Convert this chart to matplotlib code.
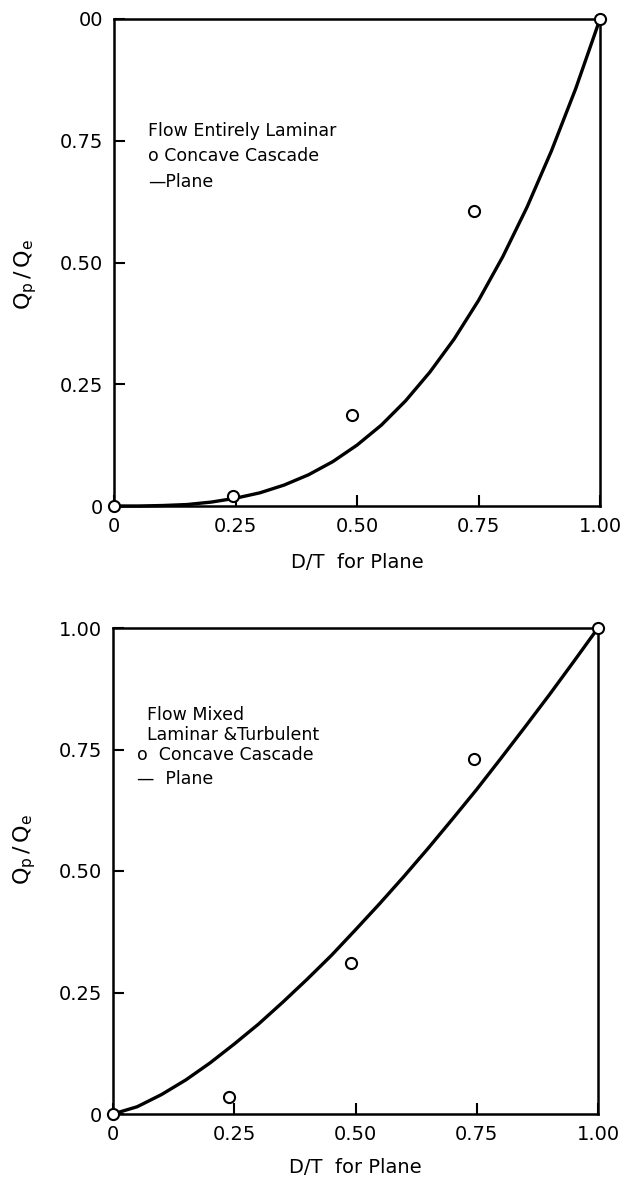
import matplotlib
matplotlib.use("Agg")
import matplotlib.pyplot as plt

# ---- data ----
curve_x = [0.00, 0.05, 0.10, 0.15, 0.20, 0.25, 0.30, 0.35, 0.40, 0.45, 0.50,
           0.55, 0.60, 0.65, 0.70, 0.75, 0.80, 0.85, 0.90, 0.95, 1.00]
laminar_plane = [0.000, 0.000, 0.001, 0.003, 0.008, 0.016, 0.027, 0.043, 0.064, 0.091, 0.125,
                 0.166, 0.216, 0.275, 0.343, 0.422, 0.512, 0.614, 0.729, 0.857, 1.000]
laminar_cascade_x = [0.00, 0.245, 0.49, 0.74, 1.00]
laminar_cascade_y = [0.00, 0.02, 0.187, 0.605, 1.00]

mixed_plane = [0.000, 0.015, 0.040, 0.070, 0.105, 0.144, 0.185, 0.230, 0.277, 0.326, 0.379,
               0.433, 0.489, 0.547, 0.607, 0.668, 0.732, 0.797, 0.863, 0.931, 1.000]
mixed_cascade_x = [0.00, 0.24, 0.49, 0.745, 1.00]
mixed_cascade_y = [0.00, 0.035, 0.31, 0.73, 1.00]

xticks = [0, 0.25, 0.50, 0.75, 1.00]
xticklabels = ["0", "0.25", "0.50", "0.75", "1.00"]
yticks = [0, 0.25, 0.50, 0.75, 1.00]
yticklabels_top = ["0", "0.25", "0.50", "0.75", "00"]
yticklabels_bot = ["0", "0.25", "0.50", "0.75", "1.00"]

plt.rcParams['font.family'] = ['DejaVu Sans']

fig = plt.figure(figsize=(6.36, 11.8), dpi=100)
ax1 = fig.add_axes([114/636, 1 - 506/1180, 486/636, 487/1180])
ax2 = fig.add_axes([113/636, 1 - 1114/1180, 485/636, 486/1180])

def style(ax, ylabels, ylab_y):
    ax.set_xlim(0, 1)
    ax.set_ylim(0, 1)
    for s in ax.spines.values():
        s.set_linewidth(1.8)
    ax.set_xticks(xticks)
    ax.set_xticklabels(xticklabels, fontsize=14)
    ax.set_yticks(yticks)
    ax.set_yticklabels(ylabels, fontsize=14)
    ax.tick_params(direction='in', length=8, width=1.5, pad=8,
                   top=False, right=False)
    ax.set_ylabel(r"$\mathsf{Q_p\,/\,Q_e}$", fontsize=16)
    ax.yaxis.set_label_coords(-0.155, ylab_y)

# top panel
ax1.plot(curve_x, laminar_plane, color='black', lw=2.4, clip_on=False)
ax1.plot(laminar_cascade_x, laminar_cascade_y, 'o', mfc='white', mec='black',
         mew=1.5, ms=8, clip_on=False, zorder=5)
style(ax1, yticklabels_top, 0.475)
ax1.set_xlabel("D/T  for Plane", fontsize=14, labelpad=12)
ax1.text(0.07, 0.77, "Flow Entirely Laminar", transform=ax1.transAxes, fontsize=12.5, va='center')
ax1.text(0.07, 0.718, "o Concave Cascade", transform=ax1.transAxes, fontsize=12.5, va='center')
ax1.text(0.07, 0.666, "\u2014Plane", transform=ax1.transAxes, fontsize=12.5, va='center')

# bottom panel
ax2.plot(curve_x, mixed_plane, color='black', lw=2.4, clip_on=False)
ax2.plot(mixed_cascade_x, mixed_cascade_y, 'o', mfc='white', mec='black',
         mew=1.5, ms=8, clip_on=False, zorder=5)
style(ax2, yticklabels_bot, 0.545)
ax2.set_xlabel("D/T  for Plane", fontsize=14, labelpad=10)
ax2.text(0.07, 0.82, "Flow Mixed", transform=ax2.transAxes, fontsize=12.5, va='center')
ax2.text(0.07, 0.78, "Laminar &Turbulent", transform=ax2.transAxes, fontsize=12.5, va='center')
ax2.text(0.05, 0.738, "o  Concave Cascade", transform=ax2.transAxes, fontsize=12.5, va='center')
ax2.text(0.05, 0.69, "\u2014  Plane", transform=ax2.transAxes, fontsize=12.5, va='center')

fig.savefig("out.png", dpi=100)
